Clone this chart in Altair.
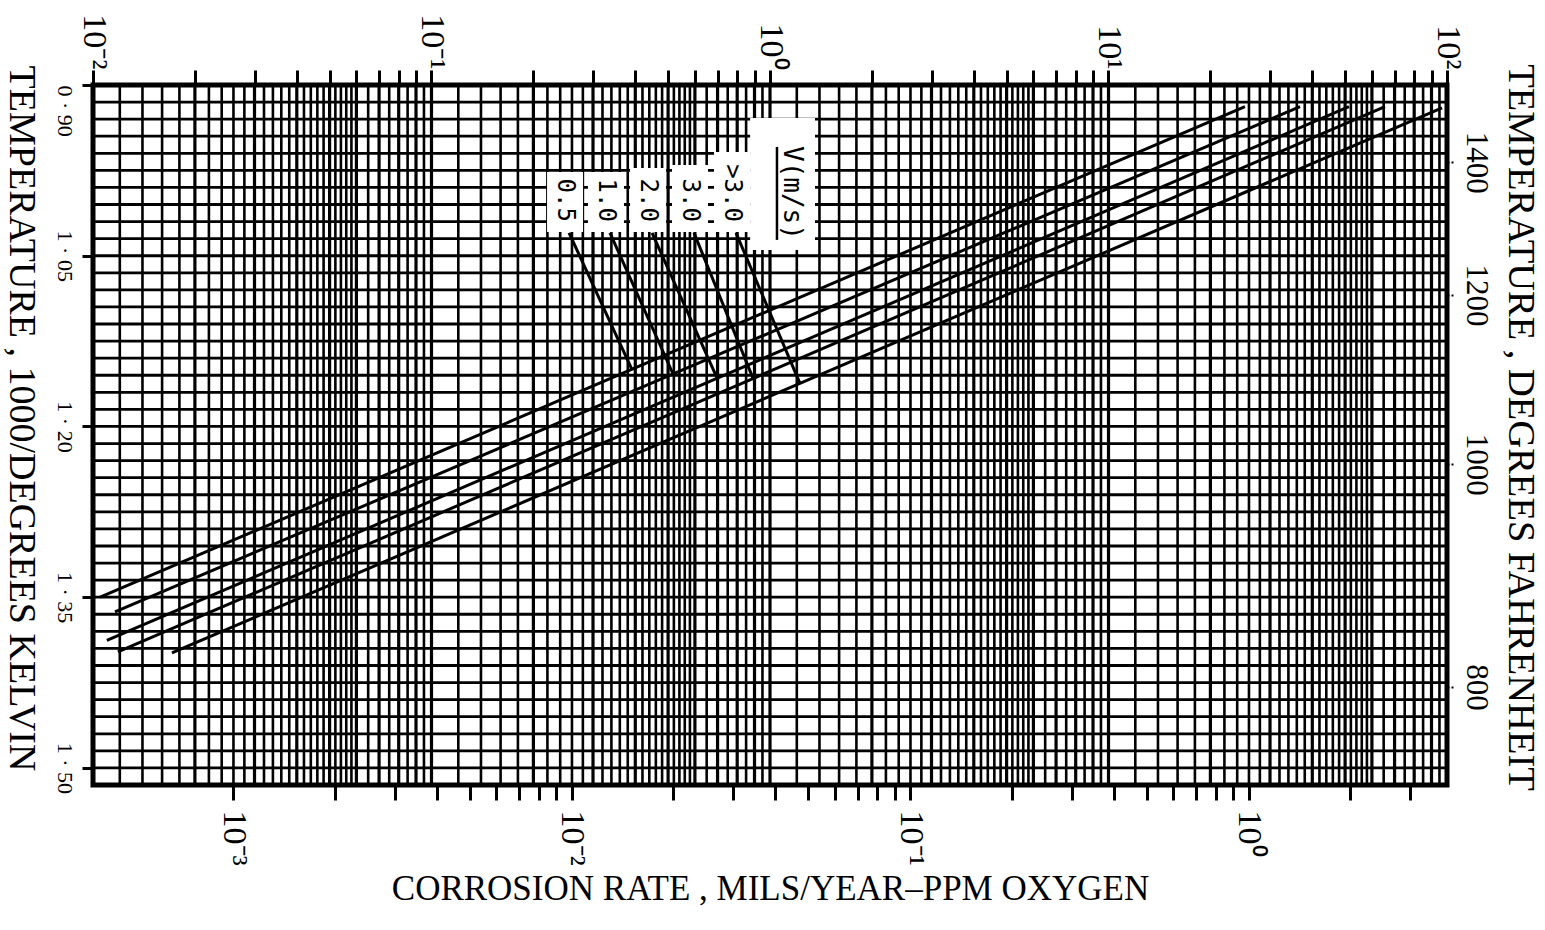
import altair as alt
import pandas as pd

# ---------------- data ----------------
velocity = ["0.5", "1.0", "2.0", "3.0", ">3.0"]
rate_start = [4.05e-4, 4.48e-4, 4.24e-4, 4.57e-4, 6.6e-4]
temp_start = [1.350, 1.363, 1.388, 1.398, 1.399]
rate_end = [0.976, 1.42, 1.98, 2.53, 3.73]
temp_end = [0.919, 0.919, 0.919, 0.919, 0.920]

# legend annotation (corrosion-rate / 1000/K coordinates)
label_rate = [9.57e-3, 1.264e-2, 1.683e-2, 2.239e-2, 2.979e-2]
label_text_end = [1.0203, 1.0203, 1.0203, 1.0203, 1.0203]
box_top = [0.9764, 0.9764, 0.9729, 0.9703, 0.9588]
box_bottom = [1.0291, 1.0291, 1.0291, 1.0291, 1.0291]
leader_start = [1.0299, 1.0299, 1.0299, 1.0299, 1.0299]
leader_end_rate = [1.51e-2, 1.995e-2, 2.69e-2, 3.44e-2, 4.73e-2]
leader_end_temp = [1.1502, 1.1539, 1.1574, 1.1580, 1.1621]
legend_title = ["V(m/s)"]
legend_title_rate = [4.48e-2]
legend_title_end = [1.0361]
legend_title_start = [0.9544]
legend_box_rate = [3.37e-2, 5.24e-2]
legend_box_temp = [0.929, 1.0449]

# axes
top_decades = [0.01, 0.1, 1, 10, 100]
top_labels = ["10⁻²", "10⁻¹", "10⁰", "10¹", "10²"]
bottom_decades = [0.001, 0.01, 0.1, 1]
bottom_labels = ["10⁻³", "10⁻²", "10⁻¹", "10⁰"]
kelvin_ticks = [0.90, 1.05, 1.20, 1.35, 1.50]
kelvin_labels = ["0 · 90", "1 · 05", "1 · 20", "1 · 35", "1 · 50"]
fahrenheit_ticks = [800, 1000, 1200, 1400]
grid_mantissas = [1.0, 1.2, 1.4, 1.6, 1.8, 2.0, 2.2, 2.4, 2.6, 2.8, 3.0, 3.2, 3.4,
                  3.6, 3.8, 4.0, 4.2, 4.4, 4.6, 4.8, 5.0, 5.2, 5.4, 5.6, 5.8, 6.0,
                  6.5, 7.0, 7.5, 8.0, 8.5, 9.0, 9.5]
kelvin_grid_step = 0.015

top_domain = [0.01, 100]
rate_domain = [3.858e-4, 3.858]
temp_domain = [0.90, 1.515]

SERIF = "Liberation Serif"
MONO = "DejaVu Sans Mono"

# ---------------- tables ----------------
curves = pd.DataFrame({
    "vel": velocity * 2,
    "rate": rate_start + rate_end,
    "temp": temp_start + temp_end,
})
vgrid = pd.DataFrame({
    "g": [m * 10.0 ** k for k in range(-2, 2) for m in grid_mantissas] + [100.0],
    "w": [3.2 if float(m).is_integer() else 2.6 for k in range(-2, 2) for m in grid_mantissas] + [3.2],
})
n_h = int(round((temp_domain[1] - temp_domain[0]) / kelvin_grid_step))
hgrid = pd.DataFrame({"h": [round(temp_domain[0] + i * kelvin_grid_step, 4) for i in range(n_h + 1)]})
labels = pd.DataFrame({
    "vel": velocity, "lx": label_rate, "ly": label_text_end,
    "bt": box_top, "bb": box_bottom,
    "ls": leader_start, "lex": leader_end_rate, "ley": leader_end_temp,
})
vtitle = pd.DataFrame({
    "t": legend_title, "lx": legend_title_rate, "ly": legend_title_end,
    "ys": legend_title_start,
    "bx": [legend_box_rate[0]], "bx2": [legend_box_rate[1]],
    "bt": [legend_box_temp[0]], "bb": [legend_box_temp[1]],
})

top_ticks = [m * 10.0 ** k for k in range(-2, 2) for m in range(1, 10)] + [100.0]
bottom_ticks = [m * 10.0 ** k for k in range(-3, 0) for m in range(1, 10)] + [1.0, 2.0, 3.0]
f_ticks_kelvin = [1000.0 / ((f - 32) / 1.8 + 273.15) for f in fahrenheit_ticks]


def label_expr(values, labs):
    s = "''"
    for v, lab in zip(values[::-1], labs[::-1]):
        s = f"(abs(datum.value - {v}) < {v * 1e-6} ? '{lab}' : {s})"
    return s


sx_top = alt.Scale(type="log", domain=top_domain, nice=False)
sx = alt.Scale(type="log", domain=rate_domain, nice=False)
sy = alt.Scale(domain=temp_domain, reverse=True, nice=False, zero=False)

common_axis = dict(domain=False, grid=False, labelColor="black", tickColor="black",
                   titleColor="black", labelOverlap=False, labelFlush=False, labelBound=False)

top_axis = alt.Axis(orient="top", values=top_ticks, labelExpr=label_expr(top_decades, top_labels),
                    labelAngle=90, labelAlign="right", labelBaseline="middle",
                    labelFont=SERIF, labelFontSize=34, labelPadding=1,
                    tickSize=15, tickWidth=3, title=None, **common_axis)

bottom_axis = alt.Axis(orient="bottom", values=bottom_ticks,
                       labelExpr=label_expr(bottom_decades, bottom_labels),
                       labelAngle=90, labelAlign="left", labelBaseline="middle",
                       labelFont=SERIF, labelFontSize=34, labelPadding=10,
                       tickSize=15, tickWidth=3,
                       title="CORROSION  RATE ,   MILS/YEAR–PPM  OXYGEN",
                       titleFont=SERIF, titleFontSize=35, titleFontWeight="normal",
                       titleAngle=0, titleAlign="center", titleBaseline="middle",
                       titleX=677, titleY=103, **common_axis)

left_axis = alt.Axis(orient="left", values=kelvin_ticks,
                     labelExpr=label_expr(kelvin_ticks, kelvin_labels),
                     labelAngle=90,
                     labelAlign={"condition": {"test": "datum.value < 0.91", "value": "left"}, "value": "center"},
                     labelBaseline="top", labelFont=SERIF, labelFontSize=22, labelPadding=8,
                     tickSize=11, tickWidth=3,
                     title="TEMPERATURE ,  1000/DEGREES  KELVIN",
                     titleFont=SERIF, titleFontSize=38, titleFontWeight="normal",
                     titleAngle=90, titleAlign="center", titleBaseline="middle",
                     titleX=-73, titleY=333, **common_axis)

right_axis = alt.Axis(orient="right", values=f_ticks_kelvin,
                      labelExpr="format((1000 / datum.value - 273.15) * 1.8 + 32, '.0f')",
                      labelAngle=90, labelAlign="center", labelBaseline="bottom",
                      labelFont=SERIF, labelFontSize=31, labelPadding=6,
                      tickSize=6, tickWidth=2, tickDash=[2, 2],
                      title="TEMPERATURE ,  DEGREES  FAHRENHEIT",
                      titleFont=SERIF, titleFontSize=38.5, titleFontWeight="normal",
                      titleAngle=90, titleAlign="center", titleBaseline="middle",
                      titleX=73, titleY=342, **common_axis)

vgrid_layer = alt.Chart(vgrid).mark_rule(color="black").encode(
    x=alt.X("g:Q", scale=sx_top, axis=top_axis),
    strokeWidth=alt.StrokeWidth("w:Q", scale=None, legend=None),
)
hgrid_layer = alt.Chart(hgrid).mark_rule(color="black", strokeWidth=2.8).encode(
    y=alt.Y("h:Q", scale=sy, axis=left_axis),
)
curve_layer = alt.Chart(curves).mark_line(color="black", strokeWidth=3).encode(
    x=alt.X("rate:Q", scale=sx, axis=bottom_axis),
    y=alt.Y("temp:Q", scale=sy, axis=right_axis),
    detail="vel:N",
)
box_layer = alt.Chart(labels).mark_rect(color="white", xOffset=-18, x2Offset=18).encode(
    x=alt.X("lx:Q", scale=sx, axis=None), x2="lx:Q",
    y=alt.Y("bt:Q", scale=sy, axis=None), y2="bb:Q",
)
vbox_layer = alt.Chart(vtitle).mark_rect(color="white").encode(
    x=alt.X("bx:Q", scale=sx, axis=None), x2="bx2:Q",
    y=alt.Y("bt:Q", scale=sy, axis=None), y2="bb:Q",
)
text_layer = alt.Chart(labels).mark_text(angle=90, align="right", baseline="middle",
                                          font=MONO, fontSize=24, color="black").encode(
    x=alt.X("lx:Q", scale=sx, axis=None),
    y=alt.Y("ly:Q", scale=sy, axis=None),
    text="vel:N",
)
vtext_layer = alt.Chart(vtitle).mark_text(angle=90, align="right", baseline="middle",
                                           font=MONO, fontSize=26, color="black").encode(
    x=alt.X("lx:Q", scale=sx, axis=None),
    y=alt.Y("ly:Q", scale=sy, axis=None),
    text="t:N",
)
underline_layer = alt.Chart(vtitle).mark_rule(color="black", strokeWidth=2.5, xOffset=-15, x2Offset=-15).encode(
    x=alt.X("lx:Q", scale=sx, axis=None), x2="lx:Q",
    y=alt.Y("ys:Q", scale=sy, axis=None), y2="ly:Q",
)
leader_layer = alt.Chart(labels).mark_rule(color="black", strokeWidth=3, xOffset=4).encode(
    x=alt.X("lx:Q", scale=sx, axis=None),
    y=alt.Y("ls:Q", scale=sy, axis=None),
    x2="lex:Q", y2="ley:Q",
)

chart = alt.layer(
    vgrid_layer, hgrid_layer, curve_layer, box_layer, vbox_layer,
    text_layer, vtext_layer, underline_layer, leader_layer,
).resolve_scale(x="independent").resolve_axis(x="independent", y="independent").properties(
    width=1354, height=700,
    autosize=alt.AutoSizeParams(type="none"),
    padding={"left": 93, "top": 85, "right": 98, "bottom": 145},
    background="white",
).configure_view(stroke="black", strokeWidth=5)

chart.save("out.html", embed_options={"renderer": "svg", "actions": False})
